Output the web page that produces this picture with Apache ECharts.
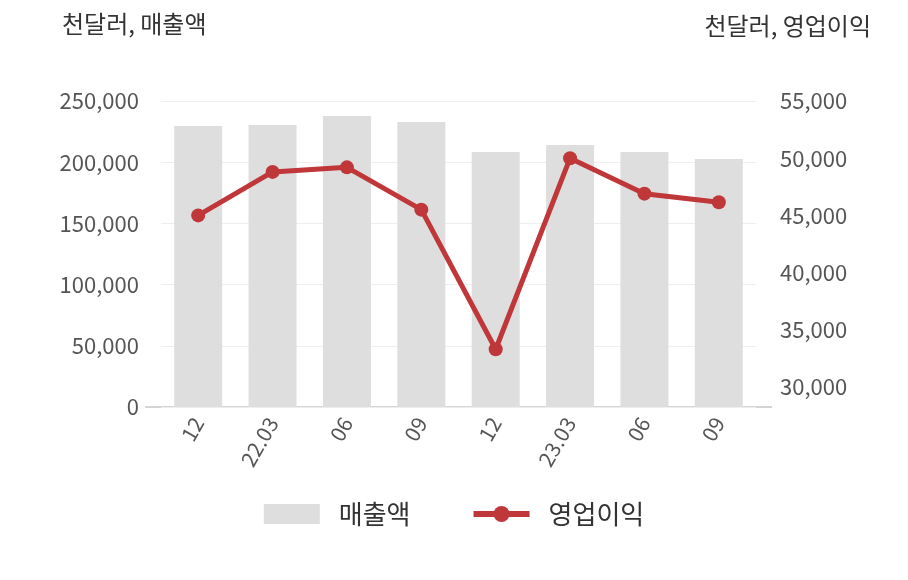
<!DOCTYPE html><html><head><meta charset="utf-8">
<script src="https://cdn.jsdelivr.net/npm/echarts@6/dist/echarts.min.js"></script>
<style>html,body{margin:0;padding:0}#c{width:908px;height:580px}</style></head><body><div id="c"></div>
<script>
const categories=['12','22.03','06','09','12','23.03','06','09'];
const sales=[229600,230400,237700,232800,208300,214000,208300,202600];
const profit=[45000,48800,49200,45500,33300,50000,46900,46150];
const rightTicks=[30000,35000,40000,45000,50000,55000];
const f='"Noto Sans CJK KR","Noto Sans",sans-serif';
const c=echarts.init(document.getElementById('c'));
c.setOption({
 animation:false,
 textStyle:{fontFamily:f},
 grid:{left:161,right:152,top:101,bottom:173},
 graphic:[
  {type:'text',left:62,top:12,style:{text:'천달러, 매출액',font:'24px '+f,fill:'#333'}},
  {type:'text',right:37,top:14,style:{text:'천달러, 영업이익',font:'24px '+f,fill:'#333'}},
  {type:'line',shape:{x1:145,y1:407,x2:772,y2:407},style:{stroke:'#aaa',lineWidth:1}}
 ],
 legend:{bottom:48,left:'center',itemWidth:56,itemHeight:20,itemGap:60,textStyle:{fontSize:26,color:'#333',fontFamily:f,padding:[0,0,0,14]},
  data:[{name:'매출액',icon:'rect'},{name:'영업이익',itemStyle:{borderWidth:0},lineStyle:{width:6}}]},
 xAxis:{type:'category',data:categories,axisTick:{show:false},axisLine:{show:false},
  axisLabel:{rotate:60,fontSize:21,color:'#555',margin:12}},
 yAxis:[
  {type:'value',min:0,max:250000,interval:50000,axisLine:{show:false},axisTick:{show:false},
   splitLine:{lineStyle:{color:'#eee'}},axisLabel:{fontSize:22,color:'#555',margin:22,formatter:v=>v.toLocaleString('en-US')}},
  {type:'value',min:28250,max:55000,axisLine:{show:false},axisTick:{show:false},splitLine:{show:false},
   axisLabel:{customValues:rightTicks,fontSize:22,color:'#555',margin:24,formatter:v=>v.toLocaleString('en-US')}}
 ],
 series:[
  {name:'매출액',type:'bar',data:sales,barWidth:48,itemStyle:{color:'#dedede'}},
  {name:'영업이익',type:'line',yAxisIndex:1,data:profit,symbol:'circle',symbolSize:14,
   lineStyle:{width:5,color:'#c0373a'},itemStyle:{color:'#c0373a'}}
 ]
});
</script></body></html>
